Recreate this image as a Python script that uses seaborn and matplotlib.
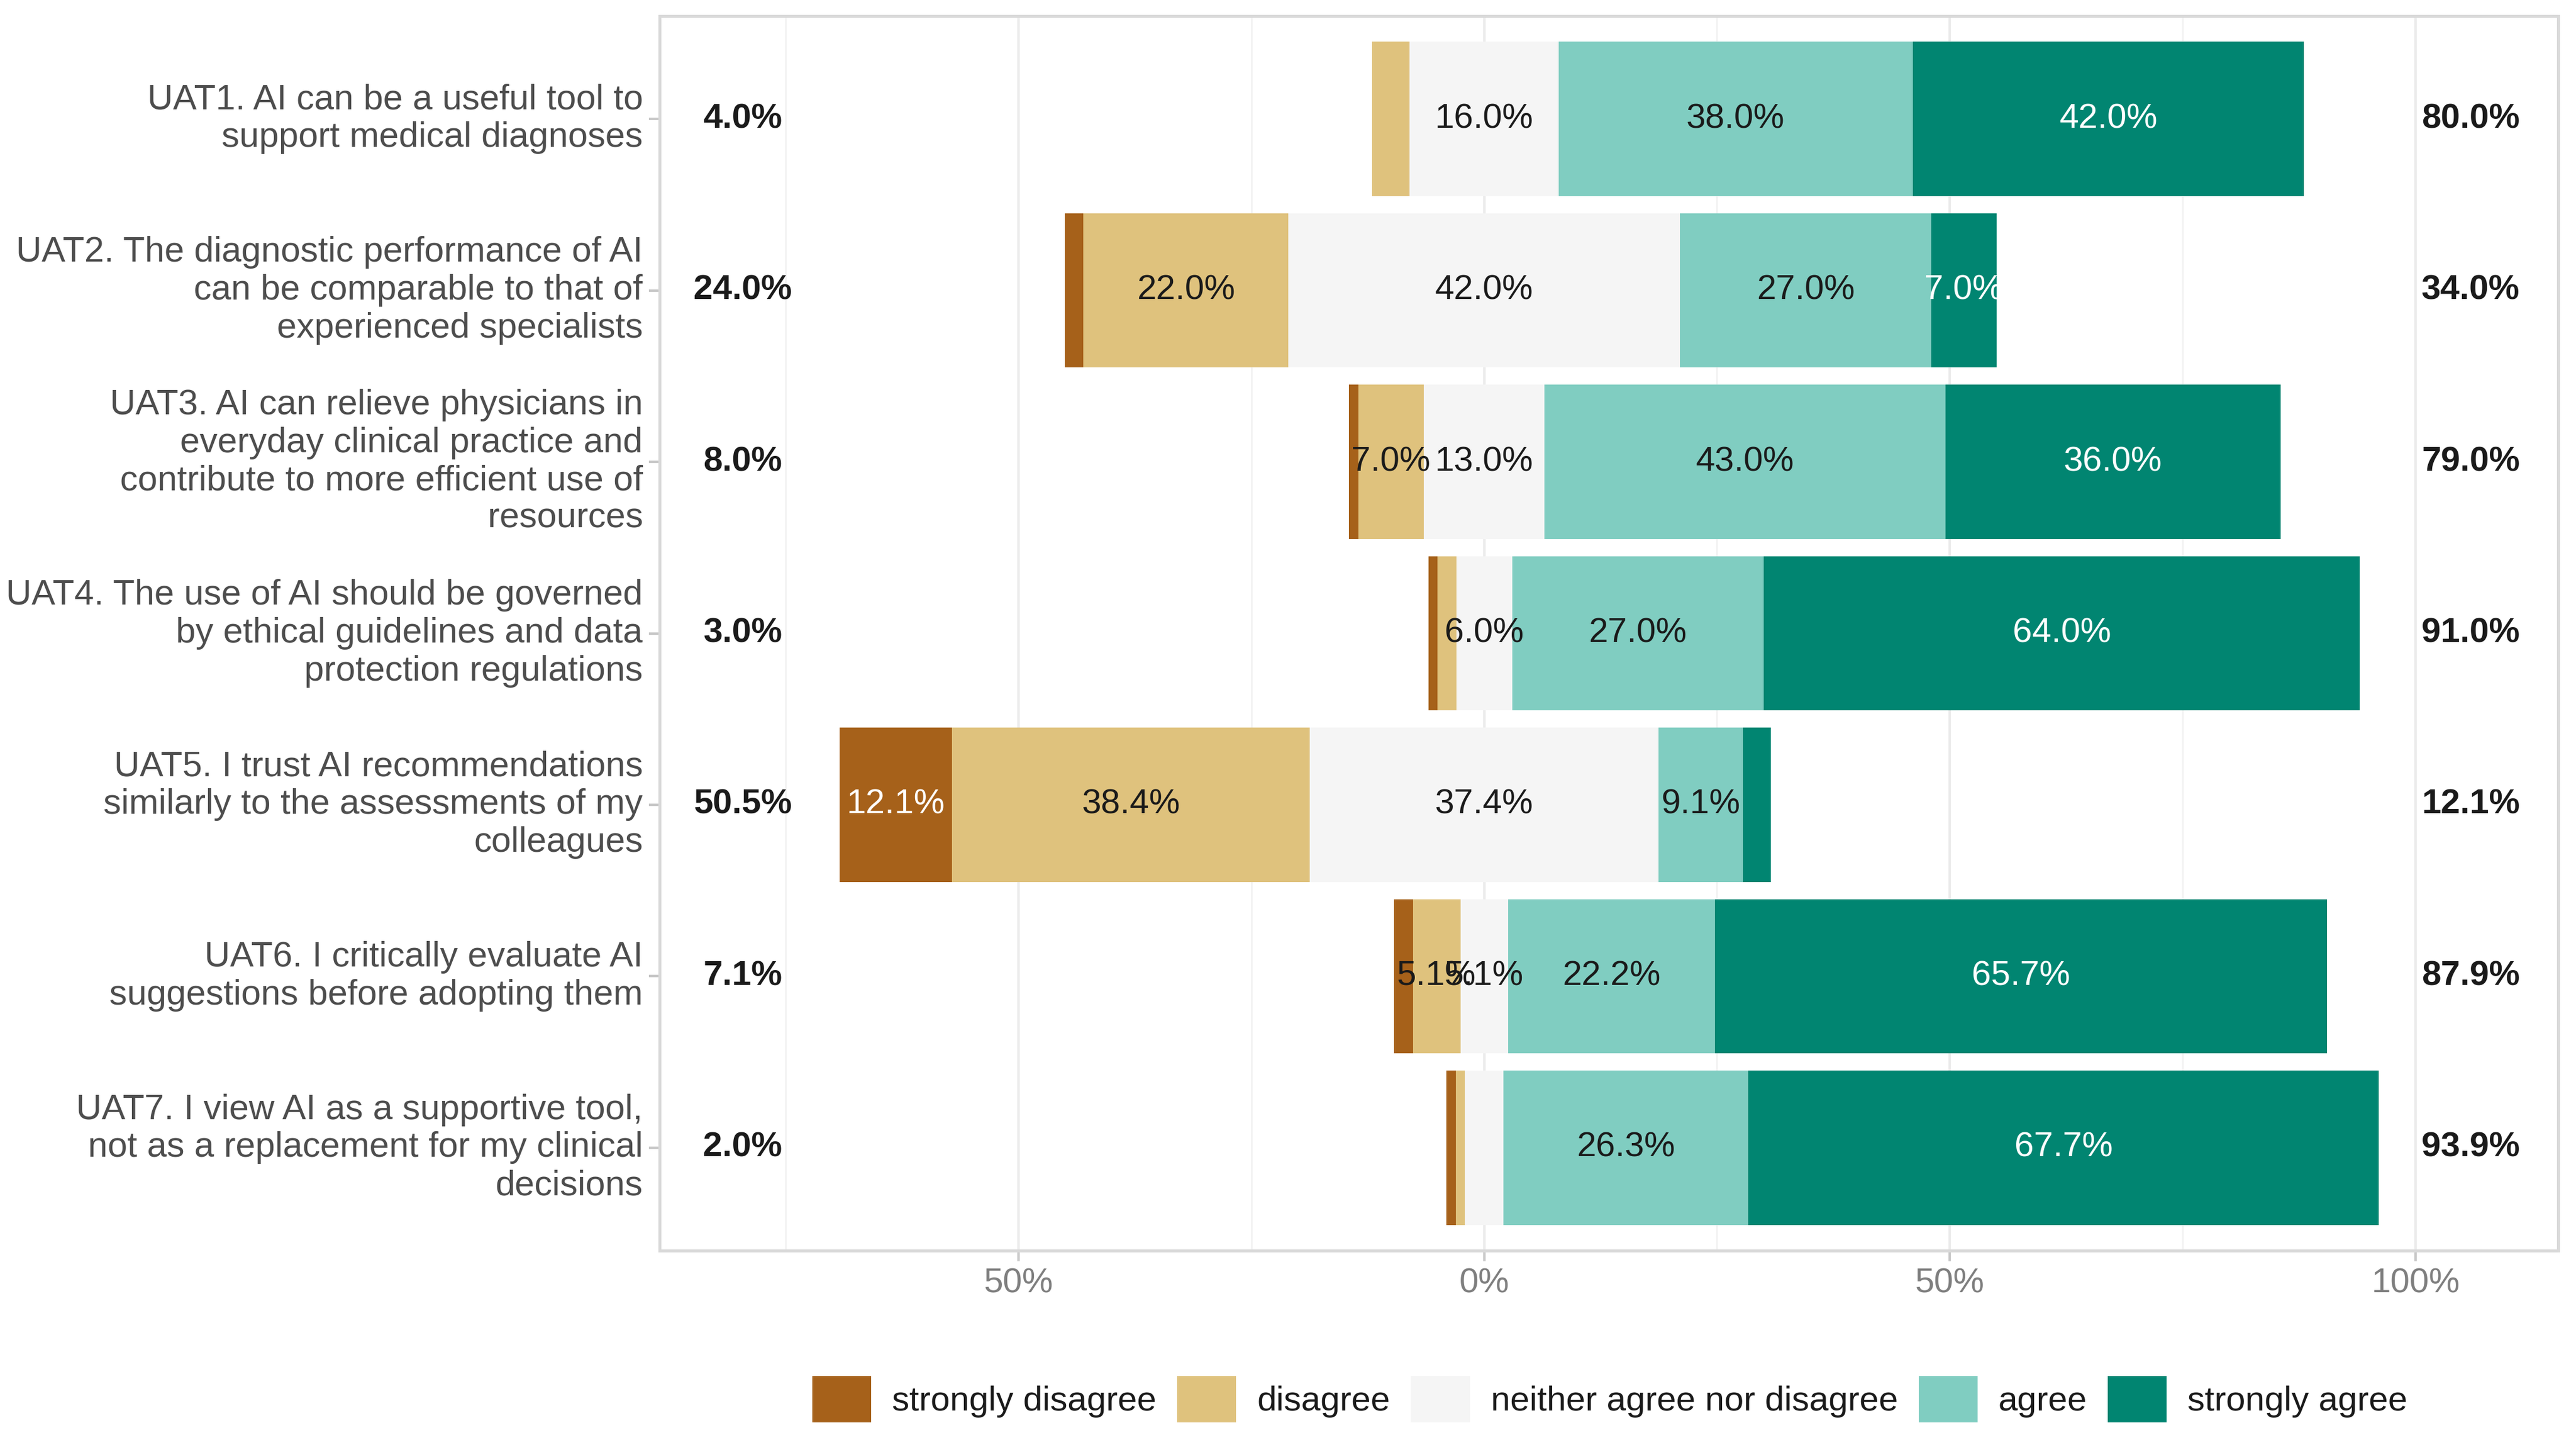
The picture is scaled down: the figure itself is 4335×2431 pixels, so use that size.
import numpy as np
import pandas as pd
import matplotlib
matplotlib.use("Agg")
import matplotlib.pyplot as plt
from matplotlib.patches import Patch
import seaborn as sns

# ── Data (percent of respondents per answer) ────────────────────────────────
items = [
    "UAT1. AI can be a useful tool to\nsupport medical diagnoses",
    "UAT2. The diagnostic performance of AI\ncan be comparable to that of\nexperienced specialists",
    "UAT3. AI can relieve physicians in\neveryday clinical practice and\ncontribute to more efficient use of\nresources",
    "UAT4. The use of AI should be governed\nby ethical guidelines and data\nprotection regulations",
    "UAT5. I trust AI recommendations\nsimilarly to the assessments of my\ncolleagues",
    "UAT6. I critically evaluate AI\nsuggestions before adopting them",
    "UAT7. I view AI as a supportive tool,\nnot as a replacement for my clinical\ndecisions",
]
strongly_disagree = [0.0, 2.0, 1.0, 1.0, 12.1, 2.0, 1.0]
disagree          = [4.0, 22.0, 7.0, 2.0, 38.4, 5.1, 1.0]
neutral           = [16.0, 42.0, 13.0, 6.0, 37.4, 5.1, 4.1]
agree             = [38.0, 27.0, 43.0, 27.0, 9.1, 22.2, 26.3]
strongly_agree    = [42.0, 7.0, 36.0, 64.0, 3.0, 65.7, 67.7]
low_totals  = [4.0, 24.0, 8.0, 3.0, 50.5, 7.1, 2.0]
high_totals = [80.0, 34.0, 79.0, 91.0, 12.1, 87.9, 93.9]

levels = ["strongly disagree", "disagree", "neither agree nor disagree",
          "agree", "strongly agree"]
colors = ["#A6611A", "#DFC27D", "#F5F5F5", "#80CDC1", "#018571"]

# ── Style ───────────────────────────────────────────────────────────────────
sns.set_theme(style="white")
plt.rcParams["font.family"] = ["Liberation Sans", "DejaVu Sans"]
FS = 14

df = pd.DataFrame({"item": items, "sd": strongly_disagree, "d": disagree,
                   "n": neutral, "a": agree, "sa": strongly_agree})
half = df["n"] / 2

fig = plt.figure(figsize=(4335 / 300, 2431 / 300), dpi=300)
ax = fig.add_axes([0.2561, 0.1345, 0.9931 - 0.2561, 0.9889 - 0.1345])

# cumulative layers, widest first, so each narrower one paints over it
layers = [
    (half + df["a"] + df["sa"], colors[4]),
    (half + df["a"], colors[3]),
    (-(half + df["d"] + df["sd"]), colors[0]),
    (-(half + df["d"]), colors[1]),
    (half, colors[2]),
    (-half, colors[2]),
]
for vals, col in layers:
    sns.barplot(x=vals, y=df["item"], orient="h", color=col, saturation=1,
                width=0.9, linewidth=0, errorbar=None, ax=ax)

# segment labels
centers = {
    "sd": -(half + df["d"] + df["sd"] / 2),
    "d": -(half + df["d"] / 2),
    "n": half * 0,
    "a": half + df["a"] / 2,
    "sa": half + df["a"] + df["sa"] / 2,
}
txt_col = {"sd": "white", "d": "#1A1A1A", "n": "#1A1A1A", "a": "#1A1A1A", "sa": "white"}
for key in ["sd", "d", "n", "a", "sa"]:
    for i, (v, c) in enumerate(zip(df[key], centers[key])):
        if v > 5:
            ax.text(c, i, f"{v:.1f}%", ha="center", va="center",
                    fontsize=FS, color=txt_col[key])

for i, (lo, hi) in enumerate(zip(low_totals, high_totals)):
    ax.text(-79.6, i, f"{lo:.1f}%", ha="center", va="center",
            fontsize=FS, fontweight="bold", color="#1A1A1A")
    ax.text(105.9, i, f"{hi:.1f}%", ha="center", va="center",
            fontsize=FS, fontweight="bold", color="#1A1A1A")

# ── Axes ────────────────────────────────────────────────────────────────────
ax.set_xlim(-88.5, 115.3)
ax.set_ylim(len(items) - 0.4, -0.6)
ax.set_xticks([-50, 0, 50, 100])
ax.set_xticklabels(["50%", "0%", "50%", "100%"])
ax.set_xticks([-75, -25, 25, 75], minor=True)
ax.grid(axis="x", which="major", color="#EBEBEB", lw=1.0)
ax.grid(axis="x", which="minor", color="#F3F3F3", lw=0.7)
ax.grid(axis="y", visible=False)
ax.set_axisbelow(True)
ax.tick_params(axis="x", which="minor", length=0)
ax.tick_params(which="major", length=4.3, width=1.0, color="#C8C8C8",
               pad=2.5, labelsize=FS)
ax.tick_params(axis="x", labelcolor="#7F7F7F")
ax.tick_params(axis="y", labelcolor="#4D4D4D", labelsize=14.3)
ax.xaxis.set_ticks_position("bottom")
ax.yaxis.set_ticks_position("left")
for lab in ax.get_yticklabels():
    lab.set_va("center")
    lab.set_linespacing(1.2)
for sp in ax.spines.values():
    sp.set_visible(True)
    sp.set_color("#D9D9D9")
    sp.set_linewidth(1.2)
ax.set_xlabel("")
ax.set_ylabel("")

handles = [Patch(facecolor=c, edgecolor="none", label=l) for c, l in zip(colors, levels)]
fig.legend(handles=handles, loc="center", bbox_to_anchor=(0.625, 0.0317), ncol=5,
           frameon=False, fontsize=FS, handlelength=1.7, handleheight=1.7,
           handletextpad=0.6, columnspacing=0.6, labelcolor="#1A1A1A")

fig.savefig("out.png", dpi=300)
